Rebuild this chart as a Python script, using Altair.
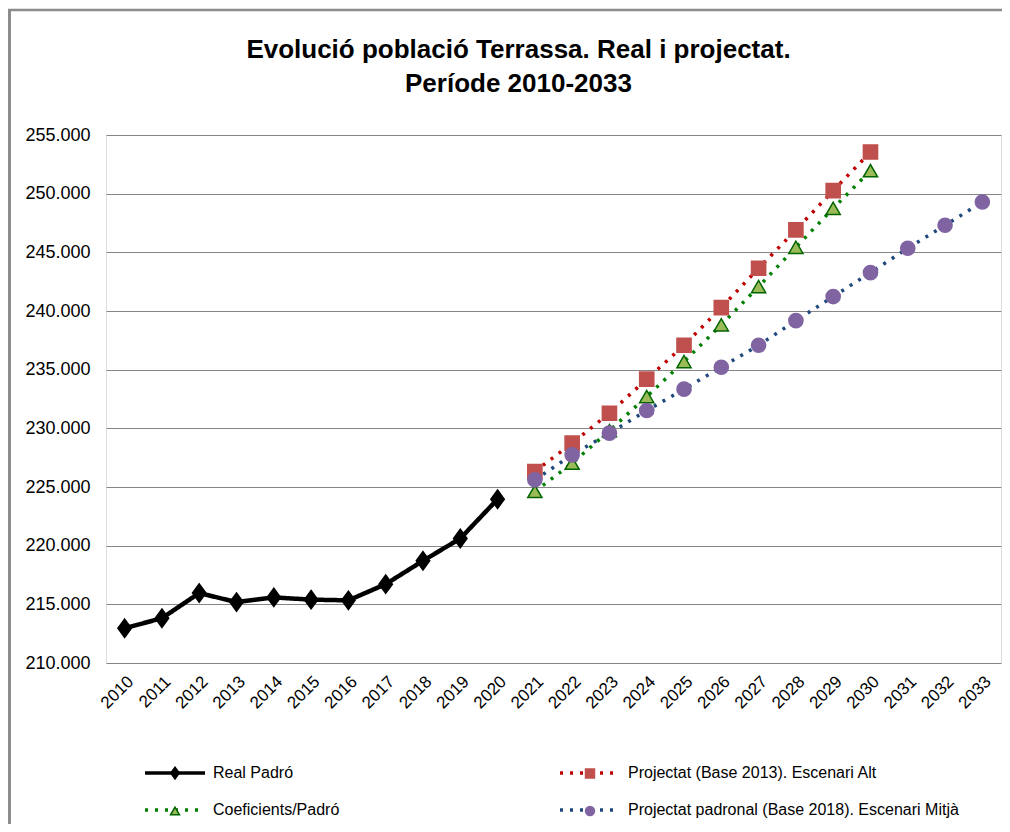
import altair as alt
import pandas as pd

# ---------------- data ----------------
years = list(range(2010, 2034))

S_REAL = "Real Padró"
S_ALT = "Projectat (Base 2013). Escenari Alt"
S_COEF = "Coeficients/Padró"
S_MIT = "Projectat padronal (Base 2018). Escenari Mitjà"
# legend fills column by column: col 1 = Real, Coef ; col 2 = Alt, Mitjà
series_order = [S_REAL, S_COEF, S_ALT, S_MIT]

real_years = list(range(2010, 2021))
real_vals = [212960, 213820, 215960, 215190, 215590, 215400, 215340, 216720, 218710, 220610, 223960]

alt_years = list(range(2021, 2031))
alt_vals = [226320, 228740, 231290, 234190, 237080, 240290, 243640, 246910, 250260, 253550]

coef_years = list(range(2021, 2031))
coef_vals = [224620, 227030, 229800, 232710, 235690, 238820, 242080, 245430, 248750, 251960]

mit_years = list(range(2021, 2034))
mit_vals = [225610, 227740, 229590, 231520, 233340, 235210, 237080, 239180, 241230, 243270, 245350, 247310, 249290]

y_ticks = list(range(210000, 255001, 5000))

rows = []
for s, ys, vs in [(S_REAL, real_years, real_vals), (S_ALT, alt_years, alt_vals),
                  (S_COEF, coef_years, coef_vals), (S_MIT, mit_years, mit_vals)]:
    for yy, vv in zip(ys, vs):
        rows.append({"year": yy, "value": vv, "series": s, "mk": s + " "})
df = pd.DataFrame(rows)
mk_order = [s + " " for s in series_order]

# ---------------- styling ----------------
FONT = "Liberation Sans"
# order: Real, Coef, Alt, Mitjà
line_colors = ["#000000", "#008000", "#C00000", "#1F497D"]
marker_fill = ["#000000", "#9BBB59", "#C0504D", "#8064A2"]
marker_stroke = ["#000000", "#006400", "#C0504D", "#8064A2"]
DIAMOND = "M0,-1.3L0.95,0L0,1.3L-0.95,0Z"
marker_shape = [DIAMOND, "triangle-up", "square", "circle"]

common_legend = dict(
    title=None, orient="none", legendX=39, legendY=630, columns=2,
    rowPadding=21, labelFont=FONT, labelFontSize=16,
    symbolOffset=22, labelOffset=30, labelLimit=600,
)
line_legend = alt.Legend(symbolType="M-6,0H6", symbolSize=100, symbolStrokeWidth=3.5,
                         labelColor="#000000", columnPadding=213, **common_legend)
# marker overlay legend: same grid, markers only (no label text)
mk_legend = alt.Legend(symbolSize=80, symbolStrokeWidth=1.5, labelExpr="''",
                       columnPadding=347, **common_legend)

x_enc = alt.X("year:O",
              scale=alt.Scale(domain=years, type="point", padding=0.5),
              axis=alt.Axis(title=None, labelAngle=-45, labelFont=FONT, labelFontSize=17,
                            labelColor="#000000", ticks=False, domain=False, grid=False,
                            labelPadding=10))
y_enc = alt.Y("value:Q",
              scale=alt.Scale(domain=[210000, 255000], nice=False, zero=False),
              axis=alt.Axis(title=None, values=y_ticks,
                            labelExpr="replace(format(datum.value, ','), ',', '.')",
                            labelFont=FONT, labelFontSize=18, labelColor="#000000",
                            labelPadding=16, ticks=False, domain=False,
                            gridColor="#868686", gridWidth=1))

color_enc = alt.Color("series:N", scale=alt.Scale(domain=series_order, range=line_colors),
                      legend=line_legend)
dash_enc = alt.StrokeDash("series:N",
                          scale=alt.Scale(domain=series_order, range=[[1, 0], [3, 7], [3, 7], [3, 7]]),
                          legend=line_legend)

base = alt.Chart(df)

real_line = base.transform_filter(alt.datum.series == S_REAL).mark_line(
    strokeWidth=4.5).encode(x=x_enc, y=y_enc, color=color_enc, strokeDash=dash_enc)

proj_line = base.transform_filter(alt.datum.series != S_REAL).mark_line(
    strokeWidth=3.5).encode(x=x_enc, y=y_enc, color=color_enc, strokeDash=dash_enc)

points = base.mark_point(filled=True, size=200, strokeWidth=1.5, opacity=1).encode(
    x=x_enc, y=y_enc,
    shape=alt.Shape("mk:N", scale=alt.Scale(domain=mk_order, range=marker_shape), legend=mk_legend),
    fill=alt.Fill("mk:N", scale=alt.Scale(domain=mk_order, range=marker_fill), legend=mk_legend),
    stroke=alt.Stroke("mk:N", scale=alt.Scale(domain=mk_order, range=marker_stroke), legend=mk_legend),
)

frame_df = pd.DataFrame({"f": [0]})
frame_left = alt.Chart(frame_df).mark_rule(color="#8c8c8c", strokeWidth=3).encode(
    x=alt.value(-96.5), y=alt.value(-125), y2=alt.value(720))
frame_top = alt.Chart(frame_df).mark_rule(color="#8c8c8c", strokeWidth=2.5).encode(
    x=alt.value(-98), x2=alt.value(900), y=alt.value(-125))

chart = alt.layer(frame_left, frame_top, real_line, proj_line, points).properties(
    width=895, height=528,
    title=alt.TitleParams(
        text=["Evolució població Terrassa. Real i projectat.", "Període 2010-2033"],
        font=FONT, fontSize=26, fontWeight="bold", color="#000000", anchor="middle",
        dx=-35, offset=-88, lineHeight=34),
    autosize=alt.AutoSizeParams(type="none"),
    padding={"left": 98, "top": 127, "right": 1, "bottom": 161},
).configure_view(stroke=None).configure(background="#ffffff")

chart.save("out.html", embed_options={"renderer": "svg", "actions": False})
